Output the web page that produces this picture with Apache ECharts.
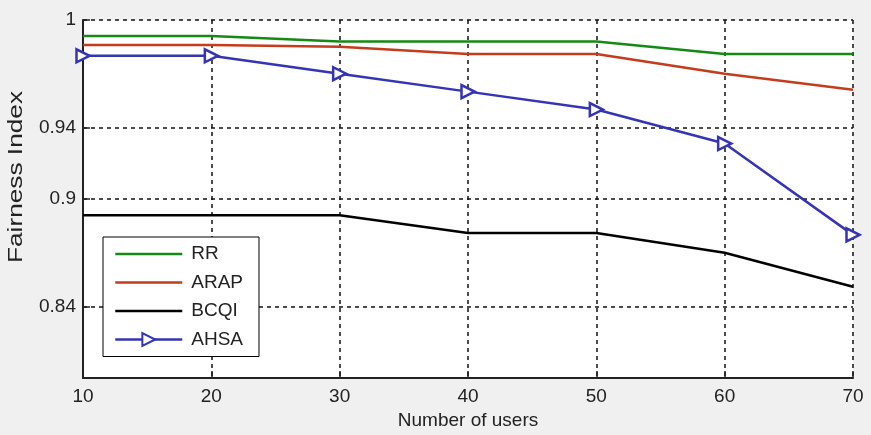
<!DOCTYPE html>
<html>
<head>
<meta charset="utf-8">
<script src="https://cdn.jsdelivr.net/npm/echarts@6/dist/echarts.min.js"></script>
<style>
  html, body { margin: 0; padding: 0; background: #f0f0f0; }
  #chart { width: 871px; height: 435px; }
</style>
</head>
<body>
<div id="chart"></div>
<script>
const users = [10, 20, 30, 40, 50, 60, 70]
const rr = [0.991, 0.991, 0.988, 0.988, 0.988, 0.981, 0.981]
const arap = [0.986, 0.986, 0.985, 0.981, 0.981, 0.970, 0.961]
const bcqi = [0.891, 0.891, 0.891, 0.881, 0.881, 0.870, 0.851]
const ahsa = [0.980, 0.980, 0.970, 0.960, 0.950, 0.931, 0.880]
const yTicks = [0.84, 0.9, 0.94, 1]
const legendNames = ['RR', 'ARAP', 'BCQI', 'AHSA']

const font = 'Liberation Sans, Arial, sans-serif'

function pairs(vals) {
  return users.map((u, i) => [u, vals[i]])
}

function lineSerie(name, vals, color) {
  return {
    name: name,
    type: 'line',
    data: pairs(vals),
    symbol: 'none',
    lineStyle: { color: color, width: 2.5 },
    itemStyle: { color: color },
    silent: true
  }
}

const chart = echarts.init(document.getElementById('chart'))

const option = {
  backgroundColor: '#f0f0f0',
  animation: false,
  textStyle: { fontFamily: font },
  grid: {
    left: 83, right: 18, top: 20, bottom: 56,
    show: true, backgroundColor: '#fff', borderWidth: 0
  },
  legend: {
    orient: 'vertical',
    left: 103, top: 237,
    padding: [7, 16, 7, 11],
    itemWidth: 67, itemHeight: 16, itemGap: 8.5,
    backgroundColor: '#fff', borderColor: '#000', borderWidth: 1,
    lineStyle: { width: 2.5 },
    textStyle: { fontSize: 19, lineHeight: 20, color: '#222', fontFamily: font, padding: [0, 0, 0, 4] },
    // hide the default dot on the plain lines
    data: legendNames.map(n => n === 'AHSA' ? { name: n } : { name: n, itemStyle: { opacity: 0 } })
  },
  xAxis: {
    type: 'value',
    min: 10, max: 70, interval: 10,
    name: 'Number of users',
    nameLocation: 'middle', nameGap: 32,
    nameTextStyle: { fontSize: 19, color: '#222', fontFamily: font },
    axisLine: { lineStyle: { color: '#222', width: 2 } },
    axisTick: { inside: true, length: 7, lineStyle: { color: '#222', width: 1.5 } },
    axisLabel: { fontSize: 19, color: '#222', margin: 9 },
    splitLine: { show: true, lineStyle: { color: '#111', type: [4, 4], width: 1.5 } }
  },
  yAxis: {
    type: 'value',
    min: 0.8, max: 1,
    axisLine: { show: true, lineStyle: { color: '#222', width: 2 } },
    axisTick: { show: true, inside: true, length: 7, customValues: yTicks, lineStyle: { color: '#222', width: 1.5 } },
    axisLabel: { fontSize: 19, color: '#222', margin: 7, customValues: yTicks },
    splitLine: { show: true, lineStyle: { color: '#111', type: [4, 4], width: 1.5 } }
  },
  graphic: [{
    type: 'text',
    x: 16, y: 177,
    rotation: Math.PI / 2,
    scaleX: 1.25,
    style: {
      text: 'Fairness Index',
      fontSize: 21, fill: '#222', fontFamily: font,
      align: 'center', verticalAlign: 'middle'
    }
  }],
  series: [
    lineSerie('RR', rr, '#148a14'),
    lineSerie('ARAP', arap, '#c33c1c'),
    lineSerie('BCQI', bcqi, '#000000'),
    {
      name: 'AHSA',
      type: 'line',
      data: pairs(ahsa),
      symbol: 'triangle',
      symbolSize: 13,
      symbolRotate: -90,
      lineStyle: { color: '#3434b4', width: 2.5 },
      itemStyle: { color: '#fff', borderColor: '#3434b4', borderWidth: 2.5 },
      silent: true
    }
  ]
}

chart.setOption(option)
</script>
</body>
</html>
